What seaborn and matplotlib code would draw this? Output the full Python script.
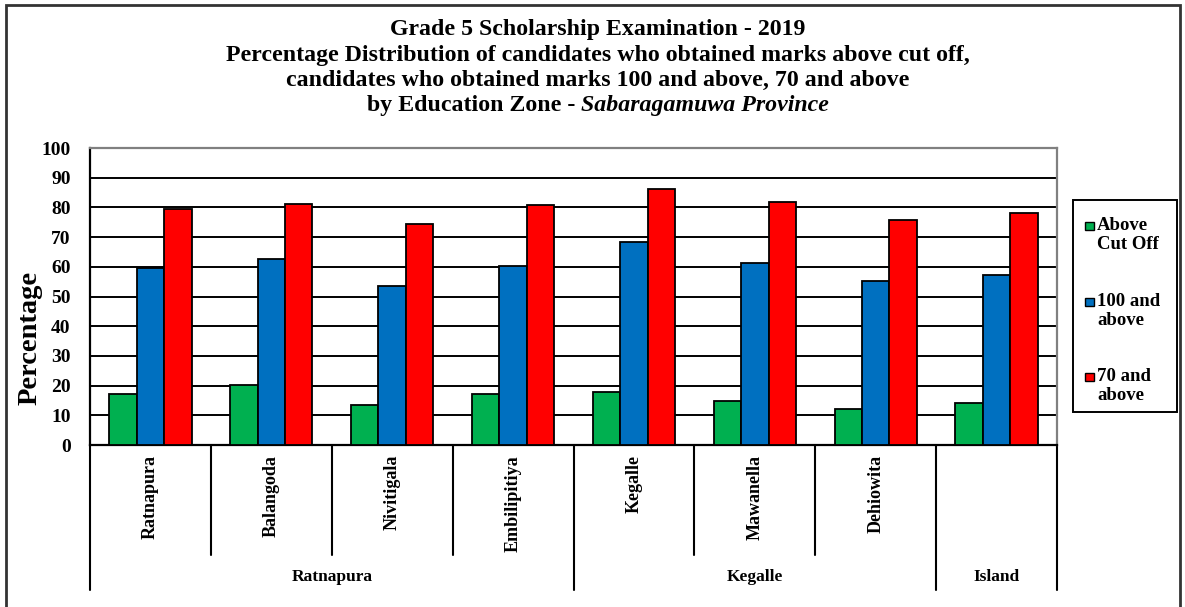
import matplotlib
matplotlib.use("Agg")
import matplotlib.pyplot as plt
import matplotlib.transforms as mtransforms
from matplotlib.patches import Rectangle
import seaborn as sns
import pandas as pd

# ---------------- data ----------------
zones = ["Ratnapura", "Balangoda", "Nivitigala", "Embilipitiya",
         "Kegalle", "Mawanella", "Dehiowita", "Island"]
districts = ["Ratnapura", "Kegalle", "Island"]
district_span = [4, 3, 1]
series = ["Above Cut Off", "100 and above", "70 and above"]
legend_labels = ["Above\nCut Off", "100 and\nabove", "70 and\nabove"]
above_cut_off = [17.1, 20.2, 13.5, 17.1, 17.8, 14.7, 12.2, 14.0]
marks_100 = [59.5, 62.7, 53.5, 60.2, 68.2, 61.4, 55.3, 57.1]
marks_70 = [79.4, 81.2, 74.5, 80.7, 86.2, 81.8, 75.8, 78.2]
colors = ["#00B050", "#0070C0", "#FF0000"]
yticks = list(range(0, 101, 10))

df = pd.DataFrame({
    "zone": zones * 3,
    "series": [series[0]] * len(zones) + [series[1]] * len(zones) + [series[2]] * len(zones),
    "value": above_cut_off + marks_100 + marks_70,
})

# ---------------- style ----------------
sns.set_style("white")
plt.rcParams["font.family"] = ["Liberation Serif", "DejaVu Serif"]
plt.rcParams["font.weight"] = "bold"
plt.rcParams["text.color"] = "black"
plt.rcParams["ytick.labelcolor"] = "black"
plt.rcParams["ytick.color"] = "black"

W, H = 1185, 607
fig = plt.figure(figsize=(W / 100, H / 100), dpi=100)
ax = fig.add_axes([90 / W, 1 - 445 / H, (1057 - 90) / W, (445 - 148) / H])

sns.barplot(data=df, x="zone", y="value", hue="series", order=zones,
            hue_order=series, palette=colors, width=0.68, saturation=1,
            edgecolor="black", linewidth=1.3, legend=False, ax=ax, zorder=3)

ax.set_xlim(-0.5, len(zones) - 0.5)
ax.set_ylim(0, 100)
ax.set_yticks(yticks)
ax.set_yticklabels([str(t) for t in yticks], fontsize=14, fontweight="bold",
                   color="black")
ax.tick_params(axis="y", direction="out", length=6, width=1.3, color="black", pad=8)
ax.set_xticks([])
ax.set_xlabel("")
ax.set_ylabel("")
ax.hlines(yticks[1:-1], -0.5, len(zones) - 0.5, color="black", lw=1.4, zorder=1)

for s in ["left", "bottom"]:
    ax.spines[s].set_color("black")
    ax.spines[s].set_linewidth(1.6)
for s in ["top", "right"]:
    ax.spines[s].set_color("#808080")
    ax.spines[s].set_linewidth(1.6)

# ---------------- multi-level category axis ----------------
trans = mtransforms.blended_transform_factory(ax.transData, ax.transAxes)
inner_y = -(555 - 445) / 297
outer_y = -(590 - 445) / 297
group_edges = [0]
for n in district_span:
    group_edges.append(group_edges[-1] + n)
for i in range(len(zones) + 1):
    y_end = outer_y if i in group_edges else inner_y
    ax.plot([i - 0.5, i - 0.5], [0, y_end], transform=trans, color="black",
            lw=1.5, clip_on=False)
# zone labels (Island has none at the inner level)
for i, z in enumerate(zones[:-1]):
    ax.text(i, -(455 - 445) / 297, z, transform=trans, rotation=90,
            ha="center", va="top", fontsize=13, fontweight="bold")
for k, d in enumerate(districts):
    c = (group_edges[k] + group_edges[k + 1]) / 2 - 0.5
    ax.text(c, -(577 - 445) / 297, d, transform=trans, ha="center",
            va="center", fontsize=12.5, fontweight="bold")

# ---------------- y label ----------------
fig.text(30 / W, 1 - 338 / H, "Percentage", rotation=90, ha="center",
         va="center", fontsize=20.5, fontweight="bold")

# ---------------- title ----------------
cx = 598 / W
title_lines = ["Grade 5 Scholarship Examination - 2019",
               "Percentage Distribution of candidates who obtained marks above cut off,",
               "candidates who obtained marks 100 and above, 70 and above"]
title_y = [29, 55, 80]
tfs = 17.2
for t, yy in zip(title_lines, title_y):
    fig.text(cx, 1 - yy / H, t, ha="center", va="center", fontsize=tfs, fontweight="bold")
renderer = fig.canvas.get_renderer()
p1 = fig.text(0, 0, "by Education Zone - ", fontsize=tfs, fontweight="bold")
p2 = fig.text(0, 0, "Sabaragamuwa Province", fontsize=tfs, fontweight="bold", style="italic")
w1 = p1.get_window_extent(renderer).width
w2 = p2.get_window_extent(renderer).width
start = 598 - (w1 + w2) / 2
y4 = 1 - 105 / H
p1.set_position((start / W, y4)); p1.set_va("center")
p2.set_position(((start + w1) / W, y4)); p2.set_va("center")

# ---------------- legend ----------------
fig.patches.append(Rectangle((1073 / W, 1 - 412 / H), 104 / W, 212 / H,
                             transform=fig.transFigure, fill=False,
                             edgecolor="black", lw=1.4))
leg_y = [226, 302, 377]
for lab, col, yy in zip(legend_labels, colors, leg_y):
    fig.patches.append(Rectangle((1085 / W, 1 - (yy + 4) / H), 9 / W, 8 / H,
                                 transform=fig.transFigure, facecolor=col,
                                 edgecolor="black", lw=1.0))
    fig.text(1097 / W, 1 - (yy - 9) / H, lab, ha="left", va="top",
             fontsize=13.5, fontweight="bold", linespacing=1.15)

# ---------------- outer border ----------------
fig.patches.append(Rectangle((6 / W, -0.01), (1180 - 6) / W, 1 - 5 / H + 0.01,
                             transform=fig.transFigure, fill=False,
                             edgecolor="#333333", lw=2))

fig.savefig("out.png", dpi=100)
